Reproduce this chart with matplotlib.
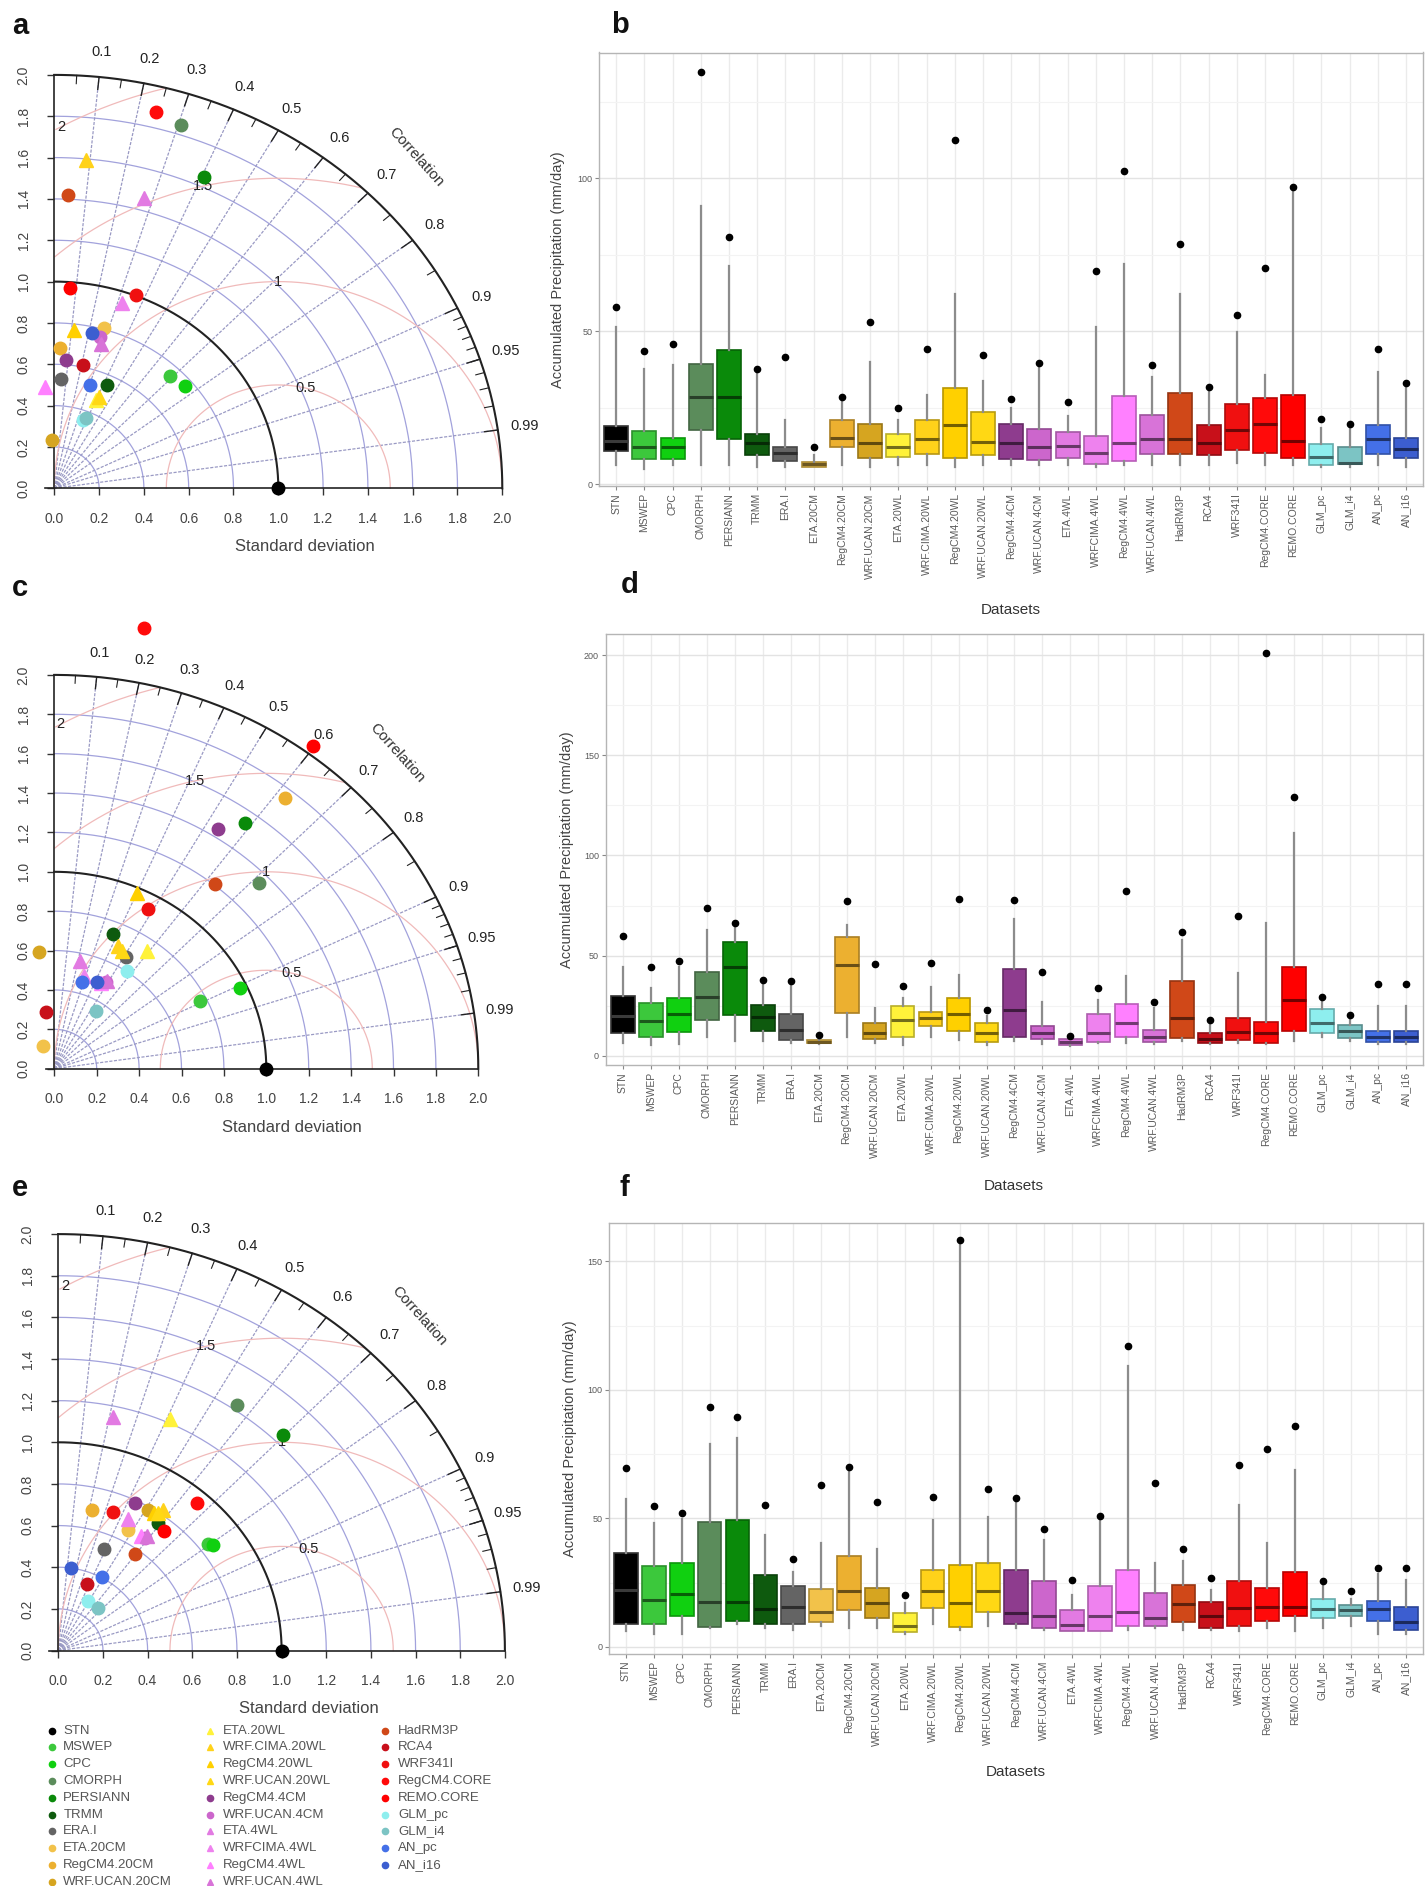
import numpy as np
import matplotlib
matplotlib.use('Agg')
import matplotlib.pyplot as plt
from matplotlib.colors import to_rgb

plt.rcParams['font.family'] = ['Liberation Sans', 'DejaVu Sans']

W, H = 1427, 1886

datasets = ['STN', 'MSWEP', 'CPC', 'CMORPH', 'PERSIANN', 'TRMM', 'ERA.I',
            'ETA.20CM', 'RegCM4.20CM', 'WRF.UCAN.20CM', 'ETA.20WL',
            'WRF.CIMA.20WL', 'RegCM4.20WL', 'WRF.UCAN.20WL', 'RegCM4.4CM',
            'WRF.UCAN.4CM', 'ETA.4WL', 'WRFCIMA.4WL', 'RegCM4.4WL',
            'WRF.UCAN.4WL', 'HadRM3P', 'RCA4', 'WRF341I', 'RegCM4.CORE',
            'REMO.CORE', 'GLM_pc', 'GLM_i4', 'AN_pc', 'AN_i16']
colors = ['#000000', '#3cc83c', '#10d010', '#5b8c5b', '#0a8a0a', '#0e5a0e',
          '#646464', '#f2c24a', '#ecb030', '#d6a520', '#fff23a', '#ffd21a',
          '#ffd000', '#ffd814', '#8e3c8e', '#cc66cc', '#e27ae2', '#ee82ee',
          '#ff80ff', '#d873d8', '#d04818', '#c8101a', '#f01010', '#ff0a0a',
          '#ff0000', '#8eeeee', '#7cc4c4', '#4470e8', '#3c5ed0']
markers = ['o'] * 10 + ['^'] * 4 + ['o'] * 2 + ['^'] * 4 + ['o'] * 9

# Taylor diagrams: normalised standard deviation and correlation
sd_a = [1.00, 0.749, 0.764, 1.848, 1.649, 0.551, 0.529, 0.807, 0.680, 0.235,
        0.466, 1.593, 0.772, 0.483, 0.624, 0.760, 1.460, 0.948, 0.490, 0.731,
        1.422, 0.612, 1.002, 1.878, 0.970, 0.355, 0.368, 0.524, 0.769]
cor_a = [1.00, 0.688, 0.763, 0.307, 0.404, 0.430, 0.057, 0.273, 0.038, -0.051,
         0.403, 0.090, 0.115, 0.414, 0.085, 0.271, 0.275, 0.321, -0.086, 0.287,
         0.044, 0.209, 0.364, 0.242, 0.070, 0.361, 0.380, 0.301, 0.220]
sd_c = [1.00, 0.769, 0.968, 1.351, 1.540, 0.739, 0.661, 0.125, 1.753, 0.599,
        0.738, 0.691, 0.975, 0.680, 1.445, 0.504, 0.562, 0.490, 0.490, 0.510,
        1.207, 0.289, 0.925, 2.279, 2.041, 0.601, 0.354, 0.459, 0.484]
cor_c = [1.00, 0.894, 0.905, 0.716, 0.584, 0.376, 0.512, -0.416, 0.621, -0.118,
         0.591, 0.437, 0.398, 0.470, 0.536, 0.484, 0.215, 0.286, 0.450, 0.490,
         0.628, -0.136, 0.479, 0.186, 0.597, 0.567, 0.551, 0.281, 0.413]
sd_e = [1.00, 0.843, 0.858, 1.424, 1.445, 0.757, 0.530, 0.660, 0.693, 0.785,
        1.219, 0.822, 0.790, 0.800, 0.787, 0.664, 1.146, 0.703, 0.663, 0.680,
        0.576, 0.345, 0.710, 0.940, 0.743, 0.274, 0.270, 0.405, 0.400]
cor_e = [1.00, 0.797, 0.809, 0.561, 0.697, 0.592, 0.386, 0.475, 0.215, 0.513,
         0.410, 0.572, 0.545, 0.560, 0.436, 0.584, 0.212, 0.445, 0.558, 0.585,
         0.596, 0.376, 0.347, 0.659, 0.637, 0.490, 0.663, 0.486, 0.138]

corr_labels = [0.1, 0.2, 0.3, 0.4, 0.5, 0.6, 0.7, 0.8, 0.9, 0.95, 0.99]
rms_levels = [0.5, 1.0, 1.5, 2.0]
rms_text = ['0.5', '1', '1.5', '2']

# Boxplots (mm/day): whisker low, Q1, median, Q3, whisker high, max outlier
lo_b = [6.4, 5.1, 6.4, 6.4, 6.4, 5.7, 5.7, 5.7, 6.4, 5.7, 6.4, 6.4, 5.7, 6.4, 6.4,
        6.4, 6.4, 5.7, 6.4, 6.4, 6.4, 6.4, 7.0, 6.4, 6.4, 5.7, 5.7, 6.4, 5.7]
q1_b = [10.8, 8.3, 8.3, 17.8, 14.6, 9.5, 7.6, 5.7, 12.1, 8.5, 8.9, 9.8, 8.5, 9.5, 8.3,
        8.0, 8.5, 6.7, 7.6, 9.9, 9.8, 9.5, 11.1, 10.2, 8.5, 6.4, 6.6, 9.8, 8.5]
med_b = [14.0, 12.3, 12.1, 28.6, 28.6, 13.3, 10.2, 6.6, 15.2, 13.3, 12.1, 14.9, 19.3, 13.7, 13.6,
         12.1, 12.5, 10.2, 13.3, 14.6, 14.6, 13.6, 17.8, 19.7, 14.0, 8.9, 7.0, 14.6, 11.4]
q3_b = [19.1, 17.4, 15.2, 39.4, 43.8, 16.5, 12.3, 7.2, 21.0, 19.7, 16.5, 21.0, 31.4, 23.5, 19.7,
        18.0, 17.2, 15.6, 28.8, 22.6, 29.9, 19.3, 26.3, 28.3, 29.2, 13.1, 12.1, 19.4, 15.0]
hi_b = [51.5, 37.5, 38.8, 90.9, 71.2, 36.2, 21.0, 9.5, 27.3, 40.0, 21.0, 29.2, 62.3, 33.7, 24.8,
        39.4, 22.2, 51.5, 72.0, 34.9, 62.3, 31.5, 49.6, 35.6, 97.2, 18.4, 18.4, 36.5, 33.0]
out_b = [57.8, 43.5, 45.7, 134.7, 80.7, 37.7, 41.5, 12.1, 28.6, 53.0, 24.8, 44.2, 112.5, 42.3, 27.7,
         39.6, 26.9, 69.6, 102.3, 39.1, 78.4, 31.8, 55.3, 70.8, 97.2, 21.2, 19.7, 44.2, 33.0]

lo_d = [6.2, 5.2, 5.6, 9.1, 7.2, 7.2, 6.2, 5.8, 9.1, 6.2, 5.2, 9.1, 7.6, 5.2, 7.2,
        5.6, 4.9, 6.2, 6.2, 5.6, 7.2, 5.6, 6.2, 5.6, 7.2, 9.1, 7.2, 5.6, 5.6]
q1_d = [11.1, 9.5, 11.7, 17.9, 20.4, 12.1, 7.8, 6.2, 21.2, 8.2, 9.1, 14.6, 12.4, 6.8, 9.1,
        8.2, 5.2, 6.8, 9.1, 6.8, 8.7, 6.2, 7.8, 6.2, 12.1, 11.1, 8.7, 6.6, 6.6]
med_d = [19.8, 17.3, 20.8, 29.2, 44.1, 19.2, 13.0, 6.8, 45.5, 11.1, 17.9, 18.9, 20.8, 11.1, 22.7,
         11.1, 6.8, 11.1, 16.5, 9.5, 18.9, 8.2, 11.7, 11.1, 28.0, 16.5, 12.1, 9.5, 9.5]
q3_d = [29.9, 26.2, 28.6, 41.6, 56.8, 25.1, 20.8, 7.6, 59.3, 16.5, 24.7, 21.8, 28.6, 16.3, 43.1,
        15.0, 8.2, 20.8, 25.7, 13.0, 37.3, 11.1, 18.9, 16.9, 44.5, 23.3, 15.4, 12.4, 12.4]
hi_d = [44.5, 34.0, 44.1, 62.6, 63.9, 37.9, 37.3, 9.5, 65.5, 23.7, 29.0, 34.4, 40.2, 19.8, 68.4,
        26.6, 9.1, 27.6, 39.6, 23.7, 57.7, 15.9, 41.2, 66.5, 111.2, 28.6, 18.9, 24.7, 24.7]
out_d = [59.7, 44.5, 47.4, 73.7, 66.1, 37.9, 37.3, 10.1, 77.2, 45.7, 34.8, 46.5, 78.1, 22.7, 77.7,
         41.8, 9.9, 34.0, 82.0, 26.6, 62.0, 17.9, 69.8, 201.2, 129.1, 29.5, 20.4, 36.0, 36.0]

lo_f = [6.0, 5.2, 5.2, 7.4, 8.9, 7.4, 6.7, 8.2, 7.4, 7.4, 5.2, 8.9, 6.7, 8.2, 7.4,
        6.7, 6.0, 6.0, 6.7, 7.4, 6.7, 6.7, 6.0, 7.4, 6.0, 7.4, 8.2, 5.2, 5.2]
q1_f = [8.9, 8.9, 12.2, 7.7, 10.0, 8.9, 8.9, 9.7, 14.2, 11.2, 5.7, 15.2, 7.7, 13.4, 8.9,
        7.2, 6.3, 6.3, 8.2, 8.2, 9.7, 7.2, 8.2, 10.1, 12.2, 11.2, 11.9, 10.0, 6.7]
med_f = [22.3, 18.2, 20.6, 17.4, 17.4, 14.9, 15.6, 13.4, 21.6, 17.1, 8.2, 21.6, 17.1, 21.6, 13.0,
         11.9, 8.6, 11.9, 13.4, 11.2, 16.7, 11.9, 15.2, 15.6, 15.6, 14.9, 14.2, 14.9, 9.7]
q3_f = [36.5, 31.3, 32.8, 48.7, 49.2, 28.0, 23.5, 22.6, 35.3, 23.1, 13.1, 29.8, 32.0, 32.8, 30.1,
        25.8, 14.2, 23.8, 29.8, 20.9, 24.1, 17.4, 25.6, 22.8, 29.0, 18.6, 16.4, 17.9, 15.6]
hi_f = [57.4, 48.4, 49.9, 79.0, 81.2, 43.5, 29.0, 40.5, 70.0, 38.0, 17.1, 49.2, 157.0, 50.6, 58.1,
        41.7, 20.1, 50.9, 109.5, 32.8, 33.5, 22.3, 55.1, 40.5, 68.8, 23.8, 18.6, 28.3, 26.1]
out_f = [69.7, 54.7, 52.1, 93.5, 89.4, 55.1, 34.3, 63.0, 70.0, 56.3, 20.1, 58.5, 158.5, 61.4, 58.1,
         45.9, 26.1, 50.9, 116.9, 63.6, 38.0, 26.8, 70.8, 77.0, 86.1, 25.6, 21.9, 30.5, 30.5]


def px_rect(left, top, right, bottom):
    return [left / W, 1 - bottom / H, (right - left) / W, (bottom - top) / H]


def ftext(fig, x, y, s, **kw):
    fig.text(x / W, 1 - y / H, s, **kw)


def shade(c, f):
    return tuple(np.array(to_rgb(c)) * f)


XL = (-0.15, 2.25)
YL = (-0.12, 2.35)


def draw_taylor(fig, sd, cor, ox, oy, ux, uy):
    ax = fig.add_axes(px_rect(ox + XL[0] * ux, oy - YL[1] * uy,
                              ox + XL[1] * ux, oy - YL[0] * uy))
    ax.set_xlim(XL)
    ax.set_ylim(YL)
    ax.set_facecolor('none')
    ax.spines['top'].set_visible(False)
    ax.spines['right'].set_visible(False)
    ax.spines['left'].set_position(('data', 0))
    ax.spines['left'].set_bounds(0, 2)
    ax.spines['bottom'].set_position(('data', 0))
    ax.spines['bottom'].set_bounds(-0.04, 2)
    for s in ['left', 'bottom']:
        ax.spines[s].set_linewidth(1.2)
        ax.spines[s].set_color('#222222')
    ticks = np.round(np.arange(0, 2.01, 0.2), 1)
    ax.set_xticks(ticks)
    ax.set_xticklabels([f'{t:.1f}' for t in ticks])
    ax.set_yticks(ticks)
    ax.set_yticklabels([f'{t:.1f}' for t in ticks], rotation=90, va='center')
    ax.tick_params(direction='out', length=5, width=1, pad=12, labelsize=10,
                   labelcolor='#444444', color='#333333')

    th = np.linspace(0, np.pi / 2, 300)
    for r in np.arange(0.2, 1.99, 0.2):
        if abs(r - 1.0) < 1e-6:
            continue
        ax.plot(r * np.cos(th), r * np.sin(th), color='#a2a2dc', lw=0.9, zorder=1)
    for r in [1.0, 2.0]:
        ax.plot(r * np.cos(th), r * np.sin(th), color='#222222', lw=1.5, zorder=2)

    for c in corr_labels:
        ax.plot([0, 2 * c], [0, 2 * np.sqrt(1 - c * c)], color='#9a9ac4',
                lw=0.9, ls=(0, (2.5, 1.2)), zorder=1)

    t = np.linspace(0, np.pi, 500)
    for g in rms_levels:
        x = 1 + g * np.cos(t)
        y = g * np.sin(t)
        bad = (np.hypot(x, y) > 2.0) | (x < 0)
        x = np.where(bad, np.nan, x)
        y = np.where(bad, np.nan, y)
        ax.plot(x, y, color='#f0baba', lw=0.9, zorder=1)
    rms_ang = [76, 90, 103, 119]
    for g, lab, a in zip(rms_levels, rms_text, rms_ang):
        ax.text(1 + g * np.cos(np.radians(a)), g * np.sin(np.radians(a)), lab,
                ha='center', va='center', fontsize=10.5, color='#222222', zorder=3)

    # correlation ticks on the outer arc
    minor = list(np.arange(0.05, 0.9, 0.1)) + list(np.arange(0.91, 0.99, 0.01))
    for c in minor:
        s = np.sqrt(1 - c * c)
        ax.plot([1.96 * c, 2 * c], [1.96 * s, 2 * s], color='#222222', lw=0.8)
    for c in corr_labels:
        s = np.sqrt(1 - c * c)
        ax.plot([1.94 * c, 2 * c], [1.94 * s, 2 * s], color='#222222', lw=1.0)
        ax.text(2.12 * c, 2.12 * s, f'{c:g}', ha='center', va='center',
                fontsize=10.5, color='#222222')
    ax.text(1.615, 1.605, 'Correlation', rotation=-48, ha='center', va='center',
            fontsize=11, color='#333333')
    ax.annotate('Standard deviation', xy=(1.12, 0), xycoords='data',
                xytext=(0, -42), textcoords='offset points', ha='center',
                va='center', fontsize=12, color='#444444')

    sd = np.array(sd)
    cor = np.array(cor)
    xs = sd * cor
    ys = sd * np.sqrt(1 - cor ** 2)
    order = list(range(1, len(datasets))) + [0]
    for i in order:
        ms = 9 if markers[i] == 'o' else 10
        ax.plot(xs[i], ys[i], marker=markers[i], color=colors[i], ms=ms,
                mec=colors[i], ls='none', zorder=5, clip_on=False)
    return ax


def draw_box(fig, rect, lo, q1, med, q3, hi, out, ylim, yticks):
    ax = fig.add_axes(px_rect(*rect))
    pos = np.arange(1, len(datasets) + 1)
    stats = []
    for i in range(len(datasets)):
        stats.append({'whislo': lo[i], 'q1': q1[i], 'med': med[i], 'q3': q3[i],
                      'whishi': hi[i], 'fliers': [out[i]]})
    bp = ax.bxp(stats, positions=pos, widths=0.85, patch_artist=True,
                showcaps=False,
                whiskerprops=dict(color='#8c8c8c', lw=1.6),
                medianprops=dict(lw=2.2),
                flierprops=dict(marker='o', mfc='black', mec='black', ms=4.5))
    for i, box in enumerate(bp['boxes']):
        box.set_facecolor(colors[i])
        box.set_edgecolor(shade(colors[i], 0.72) if i else '#333333')
        box.set_linewidth(1.2)
        bp['medians'][i].set_color(shade(colors[i], 0.45) if i else '#3a3a3a')
    ax.set_xlim(0.4, len(datasets) + 0.6)
    ax.set_ylim(ylim)
    ax.set_xticks(pos)
    ax.set_xticklabels(datasets, rotation=90, fontsize=7.5, color='#5a5a5a')
    ax.set_yticks(yticks)
    ax.set_yticklabels([str(v) for v in yticks], fontsize=6.5, color='#5a5a5a')
    ax.set_yticks([v + 25 for v in yticks if v + 25 < ylim[1]], minor=True)
    ax.grid(axis='x', color='#ebebeb', lw=1.0)
    ax.grid(axis='y', which='major', color='#e3e3e3', lw=1.0)
    ax.grid(axis='y', which='minor', color='#f3f3f3', lw=0.8)
    ax.tick_params(axis='both', length=3, color='#888888', width=0.8, pad=2)
    ax.tick_params(axis='y', which='minor', length=0)
    ax.set_axisbelow(True)
    for s in ax.spines.values():
        s.set_color('#b5b5b5')
        s.set_linewidth(1.0)
    return ax


fig = plt.figure(figsize=(W / 100, H / 100), dpi=100)

draw_taylor(fig, sd_a, cor_a, 54.3, 488.3, 224.0, 206.7)
draw_taylor(fig, sd_c, cor_c, 54.3, 1068.7, 212.0, 196.9)
draw_taylor(fig, sd_e, cor_e, 58.3, 1650.5, 223.3, 208.2)

draw_box(fig, (599.3, 52.5, 1423, 486.3), lo_b, q1_b, med_b, q3_b, hi_b, out_b,
         (-0.7, 141.1), [0, 50, 100])
draw_box(fig, (606, 633.6, 1423, 1065.3), lo_d, q1_d, med_d, q3_d, hi_d, out_d,
         (-4.8, 210.8), [0, 50, 100, 150, 200])
draw_box(fig, (609.3, 1222.9, 1423, 1653.8), lo_f, q1_f, med_f, q3_f, hi_f, out_f,
         (-2.7, 165.0), [0, 50, 100, 150])

ylab = 'Accumulated Precipitation (mm/day)'
for (x, y) in [(558, 269.4), (566.7, 849.5), (570, 1438.4)]:
    ftext(fig, x, y, ylab, rotation=90, ha='center', va='center',
          fontsize=10.5, color='#444444')
for (x, y) in [(1011, 610), (1014, 1186), (1016, 1772)]:
    ftext(fig, x, y, 'Datasets', ha='center', va='center', fontsize=11,
          color='#333333')

for lab, x, y in [('a', 12, 34), ('b', 611, 33), ('c', 12, 596),
                  ('d', 621, 593), ('e', 12, 1196), ('f', 619, 1196)]:
    ftext(fig, x, y, lab, ha='left', va='baseline', fontsize=21,
          fontweight='bold', color='#111111')

# legend of datasets under panel e
lax = fig.add_axes(px_rect(0, 1700, 560, 1886))
lax.set_xlim(0, 560)
lax.set_ylim(1886, 1700)
lax.axis('off')
col_mx = [51.7, 210.0, 385.0]
col_tx = [63.3, 222.7, 398.3]
row0, dy = 1730.7, 16.8
for i, name in enumerate(datasets):
    c = 0 if i < 10 else (1 if i < 20 else 2)
    r = i - [0, 10, 20][c]
    lax.plot(col_mx[c], row0 + r * dy, marker=markers[i], color=colors[i],
             ms=4.5, ls='none')
    lax.text(col_tx[c], row0 + r * dy, name, ha='left', va='center',
             fontsize=9.5, color='#555555')

fig.savefig('out.png', dpi=100)
